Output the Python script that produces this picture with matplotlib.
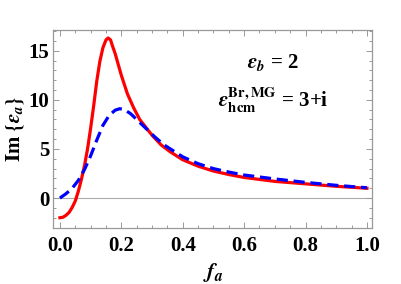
import matplotlib
matplotlib.use("Agg")
import matplotlib.pyplot as plt
from matplotlib.ticker import MultipleLocator

plt.rcParams["font.family"] = "Liberation Serif"
plt.rcParams["font.weight"] = "bold"
plt.rcParams["mathtext.fontset"] = "stix"

# values
red_x = [0.0, 0.01, 0.02, 0.03, 0.04, 0.05, 0.06, 0.07, 0.08, 0.09, 0.10, 0.11,
         0.12, 0.13, 0.14, 0.15, 0.157, 0.165, 0.17, 0.18, 0.19, 0.20, 0.22, 0.24,
         0.26, 0.28, 0.30, 0.33, 0.36, 0.40, 0.45, 0.50, 0.55, 0.60, 0.70, 0.80,
         0.90, 1.0]
red_y = [-2.0, -1.95, -1.75, -1.45, -0.95, -0.3, 0.7, 1.9, 3.3, 5.0, 7.1, 9.4,
         11.9, 13.9, 15.3, 16.1, 16.3, 16.1, 15.6, 14.7, 13.6, 12.5, 10.6, 9.2,
         8.0, 7.2, 6.4, 5.4, 4.7, 3.9, 3.25, 2.75, 2.4, 2.1, 1.7, 1.45, 1.2, 1.0]

blue_x = [0.0, 0.02, 0.04, 0.06, 0.08, 0.10, 0.12, 0.14, 0.16, 0.18, 0.195, 0.21,
          0.23, 0.25, 0.27, 0.29, 0.31, 0.34, 0.37, 0.40, 0.45, 0.50, 0.55, 0.60,
          0.70, 0.80, 0.90, 1.0]
blue_y = [0.0, 0.45, 1.0, 1.8, 2.9, 4.3, 5.9, 7.4, 8.4, 8.95, 9.1, 9.0,
          8.6, 8.0, 7.4, 6.8, 6.2, 5.4, 4.8, 4.2, 3.5, 3.0, 2.65, 2.35,
          1.95, 1.6, 1.3, 1.05]

fig = plt.figure(figsize=(4.02, 2.84), dpi=100)
ax = fig.add_axes([0.133, 0.197, 0.792, 0.697])

ax.axhline(0, color="#aaaaaa", lw=0.8, zorder=1)
ax.plot(red_x, red_y, color="#ff0000", lw=2.3, zorder=2)
ax.plot(blue_x, blue_y, color="#0000ff", lw=2.3, dashes=(3.5, 1.8), zorder=3)

ax.set_xlim(-0.021, 1.016)
ax.set_ylim(-3.05, 17.1)
ax.xaxis.set_major_locator(MultipleLocator(0.2))
ax.xaxis.set_minor_locator(MultipleLocator(0.05))
ax.yaxis.set_major_locator(MultipleLocator(5))
ax.yaxis.set_minor_locator(MultipleLocator(1))
ax.xaxis.set_major_formatter(plt.FormatStrFormatter("%.1f"))

for s in ax.spines.values():
    s.set_color("#999999")
    s.set_linewidth(0.9)
ax.tick_params(which="both", direction="in", top=True, right=True, color="#999999",
               labelsize=15, width=0.7)
ax.tick_params(which="major", length=4.5)
ax.tick_params(which="minor", length=2.5)
ax.tick_params(axis="x", pad=6)
ax.tick_params(axis="y", pad=3)

ax.set_ylabel(r"$\mathbf{Im}\ \{\epsilon_a\}$", fontsize=15)
ax.yaxis.set_label_coords(-0.085, 0.5)
ax.set_xlabel(r"$f_a$", fontsize=16, labelpad=3)

ax.text(0.69, 0.835, r"$\boldsymbol{\epsilon}_b$ = 2", transform=ax.transAxes, ha="center",
        va="center", fontsize=15, fontweight="bold")
ax.text(0.69, 0.645, r"$\boldsymbol{\epsilon}^{\mathbf{Br,MG}}_{\mathbf{hcm}}$ = 3+i",
        transform=ax.transAxes, ha="center", va="center", fontsize=15, fontweight="bold")

fig.savefig("out.png", dpi=100)
